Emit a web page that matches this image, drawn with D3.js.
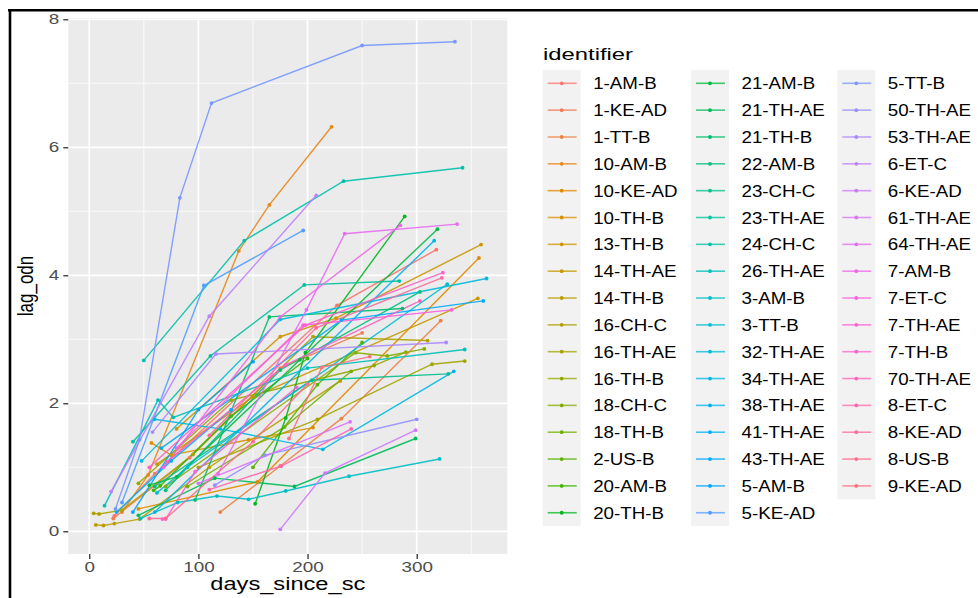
<!DOCTYPE html>
<html>
<head>
<meta charset="utf-8">
<script src="https://cdn.jsdelivr.net/npm/d3@7"></script>
<style>
body{margin:0;background:#fff}
svg{display:block;font-family:"Liberation Sans",Arial,sans-serif}
</style>
</head>
<body>
<div id="chart"></div>
<script>

// identifiers in legend order
const identifiers=["1-AM-B","1-KE-AD","1-TT-B","10-AM-B","10-KE-AD","10-TH-B","13-TH-B","14-TH-AE","14-TH-B","16-CH-C",
"16-TH-AE","16-TH-B","18-CH-C","18-TH-B","2-US-B","20-AM-B","20-TH-B","21-AM-B","21-TH-AE","21-TH-B",
"22-AM-B","23-CH-C","23-TH-AE","24-CH-C","26-TH-AE","3-AM-B","3-TT-B","32-TH-AE","34-TH-AE","38-TH-AE",
"41-TH-AE","43-TH-AE","5-AM-B","5-KE-AD","5-TT-B","50-TH-AE","53-TH-AE","6-ET-C","6-KE-AD","61-TH-AE",
"64-TH-AE","7-AM-B","7-ET-C","7-TH-AE","7-TH-B","70-TH-AE","8-ET-C","8-KE-AD","8-US-B","9-KE-AD"]

// days_since_sc per identifier
const days=[
[23,60,227,318],[22,92,175,250],[120,175,231,322],[30,54,137,165,222],[45,154,357],
[57,75,146,205],[80,175,226,359],[62,150,356],[6,13,23,46,110,230],[4,9,30,95,205,310],
[100,209,314,344],[45,130,261,290],[70,244,273,307],[90,179,240],[150,209,250],
[59,65,130,200],[152,180,198,289],[55,80,193,319],[45,115,188,299],[97,165,287],
[70,175,303],[60,204,329],[40,111,197,284],[50,142,233,342],[14,63,77,200,344],
[47,81,117,146,180,238,321],[62,90,328],[48,175,364],[60,120,214,334],[60,316],
[25,75,130],[66,231,361],[40,100,150],[30,105,196],[24,46,83,112,250,335],
[115,161,300],[58,116,327],[20,110,208],[175,216,299],[100,239],
[118,199,234,337],[68,175,285],[80,196,332],[67,70,97,190],[55,198,324],
[71,180,303],[110,176,240],[110,208,323],[55,70,150,200],[183,213,257]
]

// lag_odn per identifier
const lag=[
[0.24,0.9,3.53,4.40],[0.2,1.15,2.55,3.1],[0.3,1.02,1.76,3.29],[0.3,0.88,4.38,5.10,6.32],[0.35,0.77,4.27],
[1.38,1.19,1.43,1.62],[1.6,3.04,3.33,4.48],[1.05,2.1,3.64],[0.10,0.09,0.12,0.19,1.0,2.35],[0.28,0.27,0.33,1.2,3.04,2.98],
[1.0,1.75,2.61,2.66],[0.75,2.05,2.59,2.8],[0.7,2.79,2.74,2.85],[0.7,1.63,2.5],[1.0,2.29,2.95],
[0.64,0.71,1.8,2.7],[0.43,1.77,2.79,4.92],[0.72,0.85,2.68,4.72],[0.25,0.83,0.70,1.45],[0.49,3.35,3.48],
[0.64,2.52,3.74],[0.7,2.36,2.46],[1.4,2.74,3.85,3.91],[2.67,4.54,5.47,5.68],[0.40,2.05,1.78,2.55,2.84],
[0.2,0.45,0.55,0.5,0.63,0.86,1.13],[0.6,1.0,3.86],[1.1,3.31,3.95],[1.75,1.6,1.28,2.50],[0.3,4.54],
[0.3,1.1,1.9],[1.3,3.30,3.60],[0.3,1.9,2.65],[0.45,3.84,4.70],[0.35,1.43,5.21,6.69,7.59,7.65],
[0.72,1.19,1.75],[1.55,2.77,2.95],[0.62,3.36,5.25],[0.03,0.91,1.58],[0.75,1.71],
[0.9,3.46,4.65,4.80],[1.0,3.35,4.78],[1.3,3.22,3.46],[0.19,0.19,0.93,2.25],[1.0,3.22,4.04],
[1.08,2.6,3.60],[0.65,1.02,1.6],[1.5,3.18,3.96],[0.2,0.2,1.4,2.3],[1.45,2.56,2.73]
]

const xTicks=[0,100,200,300]
const yTicks=[0,2,4,6,8]

const width=978
const height=598

// ggplot default hue palette (polar LUV, c=100, l=65)
function hueColor(h){
const L=65,C=100
const hr=h*Math.PI/180
const U=C*Math.cos(hr),V=C*Math.sin(hr)
const Xn=95.047,Yn=100,Zn=108.883
const den=Xn+15*Yn+3*Zn
const un=4*Xn/den,vn=9*Yn/den
const Y=Yn*Math.pow((L+16)/116,3)
const u=U/(13*L)+un,v=V/(13*L)+vn
const X=Y*9*u/(4*v)
const Z=Y*(12-3*u-20*v)/(4*v)
const x=X/100,y=Y/100,z=Z/100
let r=3.240479*x-1.537150*y-0.498535*z
let g=-0.969256*x+1.875992*y+0.041556*z
let b=0.055648*x-0.204043*y+1.057311*z
const gam=c=>{c=c<=0.0031308?12.92*c:1.055*Math.pow(c,1/2.4)-0.055;return Math.round(Math.max(0,Math.min(1,c))*255)}
return d3.rgb(gam(r),gam(g),gam(b)).formatHex()
}

const colors=identifiers.map((d,i)=>hueColor(15+360*i/identifiers.length))

const svg=d3.select("#chart")
.append("svg")
.attr("width",width)
.attr("height",height)

// frame
svg.append("line").attr("x1",8).attr("x2",width).attr("y1",10.3).attr("y2",10.3)
.attr("stroke","#000").attr("stroke-width",2.6)
svg.append("line").attr("x1",10).attr("x2",10).attr("y1",9).attr("y2",height)
.attr("stroke","#000").attr("stroke-width",2.6)

const panel={left:68.3,right:507.3,top:18,bottom:554}

const x=d3.scaleLinear().domain([-19.2,383]).range([panel.left,panel.right])
const y=d3.scaleLinear().domain([-0.355,8.02]).range([panel.bottom,panel.top])

function stretched(sel,sx){
sel.each(function(){
const w=this.getComputedTextLength()
d3.select(this).attr("textLength",w*sx).attr("lengthAdjust","spacingAndGlyphs")
})
return sel
}

svg.append("rect")
.attr("x",panel.left).attr("y",panel.top)
.attr("width",panel.right-panel.left).attr("height",panel.bottom-panel.top)
.attr("fill","#EBEBEB")

const grid=svg.append("g")
const xMinor=[50,150,250,350]
const yMinor=[1,3,5,7]

grid.selectAll(".xm").data(xMinor).enter().append("line")
.attr("x1",d=>x(d)).attr("x2",d=>x(d)).attr("y1",panel.top).attr("y2",panel.bottom)
.attr("stroke","#fff").attr("stroke-width",0.8)
grid.selectAll(".ym").data(yMinor).enter().append("line")
.attr("y1",d=>y(d)).attr("y2",d=>y(d)).attr("x1",panel.left).attr("x2",panel.right)
.attr("stroke","#fff").attr("stroke-width",0.8)
grid.selectAll(".xM").data(xTicks).enter().append("line")
.attr("x1",d=>x(d)).attr("x2",d=>x(d)).attr("y1",panel.top).attr("y2",panel.bottom)
.attr("stroke","#fff").attr("stroke-width",1.7)
grid.selectAll(".yM").data(yTicks).enter().append("line")
.attr("y1",d=>y(d)).attr("y2",d=>y(d)).attr("x1",panel.left).attr("x2",panel.right)
.attr("stroke","#fff").attr("stroke-width",1.7)

// series
const series=identifiers.map((id,i)=>({
id:id,
color:colors[i],
pts:days[i].map((d,j)=>({x:d,y:lag[i][j]}))
}))

const line=d3.line().x(d=>x(d.x)).y(d=>y(d.y))

svg.append("g")
.selectAll("path")
.data(series)
.enter()
.append("path")
.attr("d",d=>line(d.pts))
.attr("fill","none")
.attr("stroke",d=>d.color)
.attr("stroke-width",1.4)
.attr("stroke-opacity",0.9)

svg.append("g")
.selectAll("g")
.data(series)
.enter()
.append("g")
.attr("fill",d=>d.color)
.selectAll("circle")
.data(d=>d.pts)
.enter()
.append("circle")
.attr("cx",d=>x(d.x))
.attr("cy",d=>y(d.y))
.attr("r",1.9)

// axes
const xAxis=svg.append("g").attr("transform","translate(0,"+panel.bottom+")")
.call(d3.axisBottom(x).tickValues(xTicks).tickSize(5).tickPadding(3))
const yAxis=svg.append("g").attr("transform","translate("+panel.left+",0)")
.call(d3.axisLeft(y).tickValues(yTicks).tickSize(5).tickPadding(4))

;[xAxis,yAxis].forEach(a=>{
a.select(".domain").remove()
a.selectAll(".tick line").attr("stroke","#333").attr("stroke-width",1.3)
a.selectAll(".tick text").attr("fill","#4D4D4D").attr("font-size","14.5px")
.attr("font-family","'Liberation Sans',Arial,sans-serif")
})
xAxis.selectAll(".tick text").attr("dy","0.72em")
stretched(xAxis.selectAll(".tick text"),1.3)
stretched(yAxis.selectAll(".tick text"),1.3)

// axis titles
svg.append("text")
.attr("x",(panel.left+panel.right)/2)
.attr("y",590)
.attr("text-anchor","middle")
.attr("font-size","17.5px")
.attr("textLength",155)
.attr("lengthAdjust","spacingAndGlyphs")
.text("days_since_sc")

svg.append("text")
.attr("transform","translate(33,"+((panel.top+panel.bottom)/2)+") scale(1.3,1) rotate(-90)")
.attr("text-anchor","middle")
.attr("font-size","17px")
.text("lag_odn")

// legend
const legend=svg.append("g")
legend.append("text")
.attr("x",543).attr("y",60)
.attr("font-size","17px")
.attr("textLength",90)
.attr("lengthAdjust","spacingAndGlyphs")
.text("identifier")

const perCol=17
const rowH=26.84
const colX=[542.7,691,837.3]
const keyW=38
const firstRow=83.3

const nCols=Math.ceil(identifiers.length/perCol)
for(let c=0;c<nCols;c++){
const n=Math.min(perCol,identifiers.length-c*perCol)
legend.append("rect")
.attr("x",colX[c]).attr("y",firstRow-rowH/2)
.attr("width",keyW).attr("height",n*rowH)
.attr("fill","#F2F2F2")
}

const items=legend.selectAll(".item")
.data(series)
.enter()
.append("g")
.attr("transform",(d,i)=>"translate("+colX[Math.floor(i/perCol)]+","+(firstRow+(i%perCol)*rowH)+")")

items.append("line")
.attr("x1",5).attr("x2",keyW-4)
.attr("stroke",d=>d.color)
.attr("stroke-width",1.6)
.attr("stroke-opacity",0.75)
items.append("circle")
.attr("cx",keyW/2).attr("r",1.9)
.attr("fill",d=>d.color)

const labels=items.append("text")
.attr("x",50.5)
.attr("y",6)
.attr("font-size","16px")
.text(d=>d.id)
stretched(labels,1.17)

</script>
</body>
</html>
